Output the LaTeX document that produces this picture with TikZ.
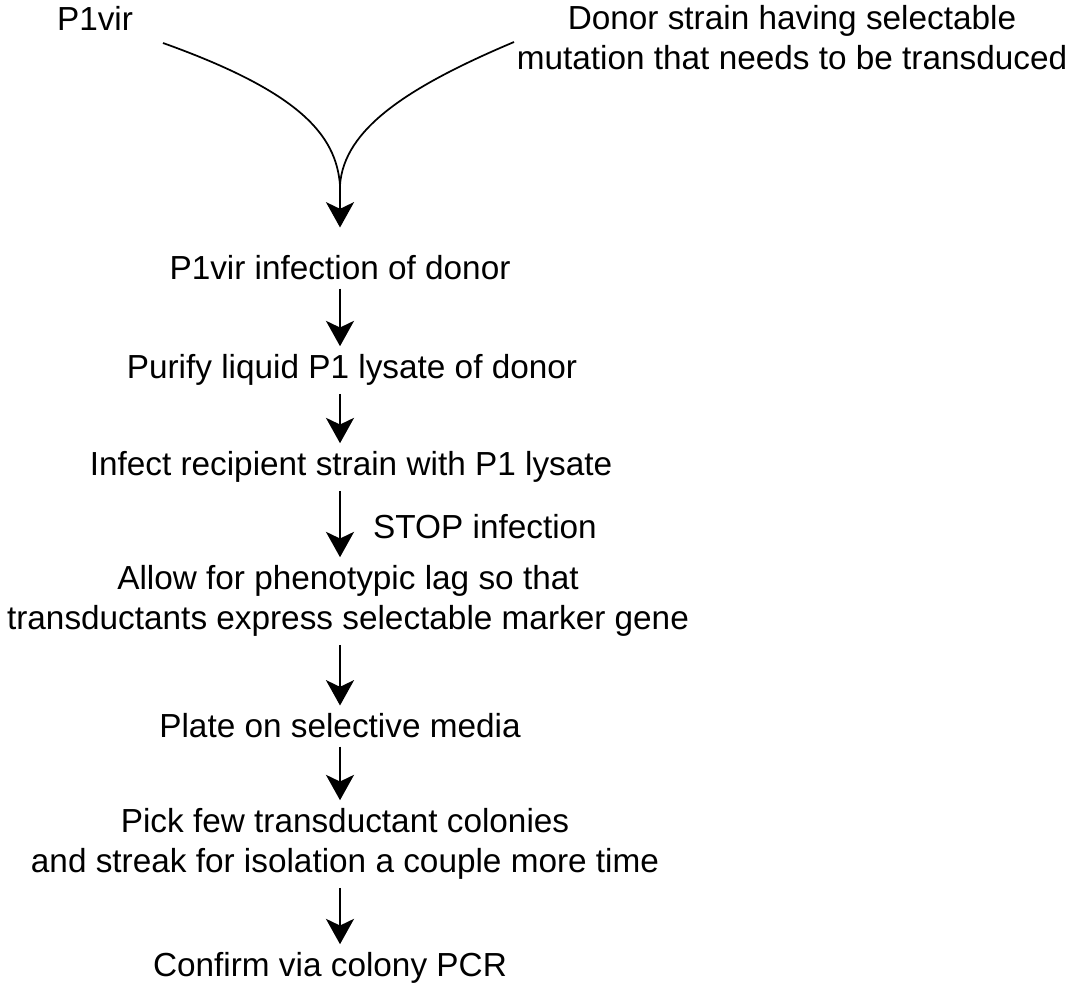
\documentclass[tikz,border=0pt]{standalone}
\usepackage{fontspec}
\setmainfont{Liberation Sans}
\usetikzlibrary{arrows.meta}

\begin{document}
\begin{tikzpicture}[x=0.75pt,y=-0.75pt]
	\tikzset{step text/.style={font=\fontsize{25}{30}\selectfont, align=center, inner sep=0pt},
		flow arrow/.style={-{Stealth[length=19pt,width=21pt,inset=5pt]}, line width=1.8pt}}
	\useasboundingbox (0,0) rectangle (1067,990);
	% source and donor
	\node[step text] (phage) at (95,18) {P1vir};
	\node[step text] (donor) at (792,38) {Donor strain having selectable\\mutation that needs to be transduced};
	% the two curves meet here
	\coordinate (phageend) at (163,43);
	\coordinate (donorend) at (514,42);
	\coordinate (merge) at (340,185);
	\draw[line width=1.3pt] (phageend) .. controls (300,92) and (336,135) .. (merge);
	\draw[line width=1.3pt] (donorend) .. controls (405,88) and (344,130) .. (merge);
	% the steps
	\node[step text] (infection) at (340,268) {P1vir infection of donor};
	\node[step text] (purify) at (352,370) {Purify liquid P1 lysate of donor};
	\node[step text] (recipient) at (351,467) {Infect recipient strain with P1 lysate};
	\node[step text] (lag) at (348,601) {Allow for phenotypic lag so that\\transductants express selectable marker gene};
	\node[step text] (plate) at (340,726) {Plate on selective media};
	\node[step text] (pick) at (345,844) {Pick few transductant colonies\\and streak for isolation a couple more time};
	\node[step text] (confirm) at (330,968) {Confirm via colony PCR};
	\coordinate (axis) at (340,0);
	\draw[flow arrow] (merge) -- ([yshift=21pt]infection.north -| axis);
	\draw[flow arrow] ([yshift=-6pt]infection.south -| axis) -- ([yshift=6pt]purify.north -| axis);
	\draw[flow arrow] ([yshift=-6pt]purify.south -| axis) -- ([yshift=6pt]recipient.north -| axis);
	\draw[flow arrow] ([yshift=-6pt]recipient.south -| axis) -- ([yshift=6pt]lag.north -| axis)
		node[step text, midway, right=24pt, yshift=-2pt] (stop) {STOP infection};
	\draw[flow arrow] ([yshift=-6pt]lag.south -| axis) -- ([yshift=6pt]plate.north -| axis);
	\draw[flow arrow] ([yshift=-6pt]plate.south -| axis) -- ([yshift=6pt]pick.north -| axis);
	\draw[flow arrow] ([yshift=-6pt]pick.south -| axis) -- ([yshift=6pt]confirm.north -| axis);
\end{tikzpicture}
\end{document}
